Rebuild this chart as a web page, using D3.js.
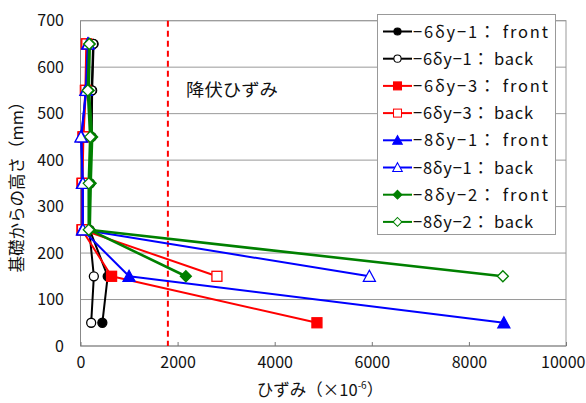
<!DOCTYPE html>
<html><head><meta charset="utf-8">
<script src="https://cdn.jsdelivr.net/npm/d3@7"></script>
<style>
body{margin:0;background:#fff;}
text{font-family:"Noto Sans CJK JP","Noto Sans",sans-serif;fill:#111;}
</style></head>
<body><svg id="c" width="586" height="403"></svg>
<script>
// gauge heights above the foundation (mm)
const heights = [650, 550, 450, 350, 250, 150, 50];
// strain readings (x10^-6), listed top to bottom along heights
const s6y1Front = [270, 240, 230, 200, 190, 560, 450];
const s6y1Back  = [260, 230, 220, 190, 180, 275, 220];
const s6y3Front = [120, 100, 50, 30, 30, 640, 4870];
const s6y3Back  = [130, 110, 60, 40, 40, 2810];
const s8y1Front = [150, 110, 20, 40, 40, 1000, 8720];
const s8y1Back  = [160, 120, 10, 50, 50, 5950];
const s8y2Front = [190, 170, 240, 210, 190, 2170];
const s8y2Back  = [180, 150, 200, 170, 170, 8700];
const yieldStrain = 1800;
const xTicks = [0, 2000, 4000, 6000, 8000, 10000];
const yTicks = [0, 100, 200, 300, 400, 500, 600, 700];

const seriesNames = ["−6δy−1： front","−6δy−1： back","−6δy−3： front","−6δy−3： back",
  "−8δy−1： front","−8δy−1： back","−8δy−2： front","−8δy−2： back"];
const seriesValues = [s6y1Front,s6y1Back,s6y3Front,s6y3Back,s8y1Front,s8y1Back,s8y2Front,s8y2Back];
const seriesColors = ["#000000","#000000","#ff0000","#ff0000","#0000ff","#0000ff","#008000","#008000"];
const seriesShapes = ["circle","circle","square","square","triangle","triangle","diamond","diamond"];
const seriesFilled = [true,false,true,false,true,false,true,false];

const svg = d3.select("#c");
const L = 80.5, R = 566, T = 20.7, B = 346;
const x = d3.scaleLinear().domain([0, 10000]).range([L, R]);
const y = d3.scaleLinear().domain([0, 700]).range([B, T]);
const FONT = '"Noto Sans CJK JP",sans-serif';

// horizontal gridlines
svg.append("g").selectAll("line").data(yTicks.slice(1)).join("line")
  .attr("x1", L).attr("x2", R).attr("y1", d => y(d)).attr("y2", d => y(d))
  .attr("stroke", "#999").attr("stroke-width", 1);
// plot frame
svg.append("rect").attr("x", L).attr("y", T).attr("width", R - L).attr("height", B - T)
  .attr("fill", "none").attr("stroke", "#999").attr("stroke-width", 1);
svg.append("line").attr("x1", L).attr("x2", L).attr("y1", T).attr("y2", B).attr("stroke", "#888");
svg.append("line").attr("x1", L).attr("x2", R).attr("y1", B).attr("y2", B).attr("stroke", "#888");

// axes
const xAxis = svg.append("g").attr("transform", `translate(0,${B})`)
  .call(d3.axisBottom(x).tickValues(xTicks).tickSizeInner(-4).tickSizeOuter(0).tickPadding(11).tickFormat(d3.format("d")));
xAxis.select(".domain").remove();
xAxis.selectAll("line").attr("stroke", "#777");
xAxis.selectAll("text").attr("font-size", 16).style("font-family", FONT).attr("fill", "#111");
// keep the last label inside the page edge
xAxis.selectAll(".tick").filter(d => d === 10000).select("text")
  .attr("text-anchor", "end").attr("x", 585 - R);

const yAxis = svg.append("g").attr("transform", `translate(${L},0)`)
  .call(d3.axisLeft(y).tickValues(yTicks).tickSize(0).tickPadding(16.5).tickFormat(d3.format("d")));
yAxis.select(".domain").remove();
yAxis.selectAll("text").attr("font-size", 16).style("font-family", FONT).attr("fill", "#111");

// yield strain reference
svg.append("line").attr("x1", x(yieldStrain)).attr("x2", x(yieldStrain)).attr("y1", T).attr("y2", B)
  .attr("stroke", "#ff0000").attr("stroke-width", 2).attr("stroke-dasharray", "6,4");
svg.append("text").attr("x", 186).attr("y", 96).attr("font-size", 17)
  .attr("textLength", 92).attr("lengthAdjust", "spacingAndGlyphs").text("降伏ひずみ");

// axis titles
const xt = svg.append("text").attr("x", 320).attr("y", 396).attr("text-anchor", "middle").attr("font-size", 16.5);
xt.append("tspan").text("ひずみ（×10");
xt.append("tspan").attr("font-size", 10).attr("dy", -7).text("-6");
xt.append("tspan").attr("dy", 7).text("）");
svg.append("text").attr("transform", "translate(23,183) rotate(-90)").attr("text-anchor", "middle")
  .attr("font-size", 16.5).text("基礎からの高さ（mm）");

function marker(g, shape, color, filled, cx, cy) {
  const fill = filled ? color : "#fff";
  if (shape === "circle") g.append("circle").attr("cx", cx).attr("cy", cy).attr("r", 4.5)
    .attr("fill", fill).attr("stroke", color).attr("stroke-width", 1.3);
  else if (shape === "square") g.append("rect").attr("x", cx - 5).attr("y", cy - 5).attr("width", 10).attr("height", 10)
    .attr("fill", fill).attr("stroke", color).attr("stroke-width", 1.3);
  else if (shape === "triangle") g.append("path").attr("d", `M${cx},${cy-6}L${cx+6},${cy+5}L${cx-6},${cy+5}Z`)
    .attr("fill", fill).attr("stroke", color).attr("stroke-width", 1.3);
  else g.append("path").attr("d", `M${cx},${cy-5.5}L${cx+5.5},${cy}L${cx},${cy+5.5}L${cx-5.5},${cy}Z`)
    .attr("fill", fill).attr("stroke", color).attr("stroke-width", 1.3);
}

const line = d3.line().x(d => x(d[0])).y(d => y(d[1]));
seriesValues.forEach((vals, i) => {
  const pts = vals.map((v, j) => [v, heights[j]]);
  const g = svg.append("g");
  g.append("path").attr("d", line(pts)).attr("fill", "none").attr("stroke", seriesColors[i])
    .attr("stroke-width", seriesColors[i] === "#008000" ? 2.6 : 2).attr("stroke-linejoin", "round");
  pts.forEach(p => marker(g, seriesShapes[i], seriesColors[i], seriesFilled[i], x(p[0]), y(p[1])));
});

// legend
const lg = svg.append("g");
lg.append("rect").attr("x", 377.5).attr("y", 14.5).attr("width", 178).attr("height", 220)
  .attr("fill", "#fff").attr("stroke", "#999").attr("stroke-width", 1);
seriesNames.forEach((name, i) => {
  const cy = 31.5 + i * 27.2;
  lg.append("line").attr("x1", 383).attr("x2", 412).attr("y1", cy).attr("y2", cy)
    .attr("stroke", seriesColors[i]).attr("stroke-width", 2);
  const g = lg.append("g");
  const s = 0.8;
  marker(g, seriesShapes[i], seriesColors[i], seriesFilled[i], 397.5, cy);
  g.attr("transform", `translate(${397.5*(1-s)},${cy*(1-s)}) scale(${s})`);
  lg.append("text").attr("x", 413).attr("y", cy + 6).attr("font-size", 16.5)
    .attr("textLength", name.endsWith("front") ? 135 : 120).attr("lengthAdjust", "spacing").text(name);
});
</script></body></html>
